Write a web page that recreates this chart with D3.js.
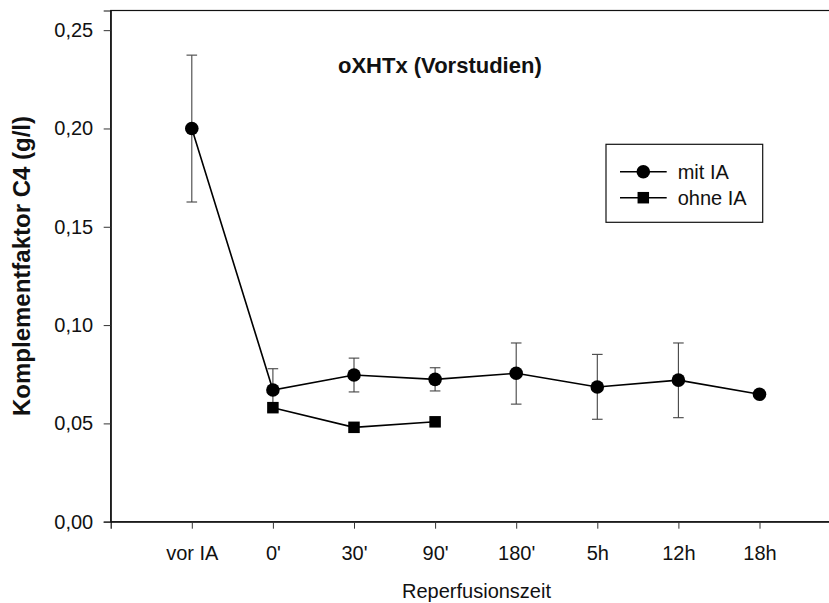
<!DOCTYPE html>
<html>
<head>
<meta charset="utf-8">
<script src="https://cdn.jsdelivr.net/npm/d3@7"></script>
<style>
  html, body { margin: 0; padding: 0; background: #fff; }
  svg { display: block; font-family: "Liberation Sans", Arial, sans-serif; }
</style>
</head>
<body>
<svg id="chart" width="829" height="603"></svg>
<script>
// Time points after reperfusion
const categories = ["vor IA", "0'", "30'", "90'", "180'", "5h", "12h", "18h"];

// Complement factor C4 (g/l), with intervention
const mitIA      = [0.200, 0.067, 0.0746, 0.0724, 0.0755, 0.0685, 0.0720, 0.0648];
const mitIAUpper = [0.2373, 0.0778, 0.0832, 0.0783, 0.0909, 0.0851, 0.0909, null];
const mitIALower = [0.1626, 0.0562, 0.0660, 0.0665, 0.0598, 0.0521, 0.0529, null];

// Complement factor C4 (g/l), without intervention
const ohneIA = [null, 0.058, 0.048, 0.0508, null, null, null, null];

const yTicks = [0, 0.05, 0.10, 0.15, 0.20, 0.25];

const svg = d3.select("#chart");
const plotLeft = 110.7, plotTop = 10.5, plotBottom = 521.7;
const labelSize = 20;

const x = d3.scaleLinear().domain([-1, 9]).range([plotLeft, plotLeft + 10 * 81.1]);
const y = d3.scaleLinear().domain([0, 0.26]).range([plotBottom, plotTop]);

const fmt = v => d3.format(".2f")(v).replace(".", ",");

// frame
svg.append("rect")
  .attr("x", plotLeft).attr("y", plotTop)
  .attr("width", x(9) - plotLeft).attr("height", plotBottom - plotTop)
  .attr("fill", "none").attr("stroke", "#111").attr("stroke-width", 1.2);

// y axis
const yAxis = svg.append("g")
  .attr("transform", `translate(${plotLeft},0)`)
  .call(d3.axisLeft(y).tickValues(yTicks).tickFormat(fmt).tickSize(7).tickPadding(10.5));
yAxis.select(".domain").attr("stroke", "#111").attr("stroke-width", 1.2);
yAxis.selectAll(".tick line").attr("stroke", "#333");
yAxis.selectAll("text").attr("font-size", labelSize).attr("fill", "#111")
  .attr("font-family", "Liberation Sans, Arial, sans-serif");

// x axis
const xAxis = svg.append("g")
  .attr("transform", `translate(0,${plotBottom})`)
  .call(d3.axisBottom(x).tickValues(d3.range(categories.length))
    .tickFormat(i => categories[i]).tickSize(7).tickPadding(17));
xAxis.select(".domain").attr("stroke", "#111").attr("stroke-width", 1.2);
xAxis.selectAll(".tick line").attr("stroke", "#333");
xAxis.selectAll("text").attr("font-size", labelSize).attr("fill", "#111")
  .attr("font-family", "Liberation Sans, Arial, sans-serif");

// axis titles
svg.append("text")
  .attr("x", 551).attr("y", 598)
  .attr("text-anchor", "end").attr("font-size", labelSize).attr("fill", "#111")
  .text("Reperfusionszeit");

svg.append("text")
  .attr("transform", "translate(30,266) rotate(-90)")
  .attr("text-anchor", "middle").attr("font-size", 24).attr("font-weight", "bold").attr("fill", "#111")
  .text("Komplementfaktor C4 (g/l)");

// chart title
svg.append("text")
  .attr("x", 338).attr("y", 73)
  .attr("text-anchor", "start").attr("font-size", 22).attr("font-weight", "bold").attr("fill", "#111")
  .text("oXHTx (Vorstudien)");

// error bars
const errData = mitIA.map((v, i) => ({ i, hi: mitIAUpper[i], lo: mitIALower[i] }))
  .filter(d => d.hi != null);
const cap = 5.3;
const eb = svg.append("g").attr("stroke", "#444").attr("stroke-width", 1.1);
errData.forEach(d => {
  eb.append("line").attr("x1", x(d.i)).attr("x2", x(d.i)).attr("y1", y(d.hi)).attr("y2", y(d.lo));
  eb.append("line").attr("x1", x(d.i) - cap).attr("x2", x(d.i) + cap).attr("y1", y(d.hi)).attr("y2", y(d.hi));
  eb.append("line").attr("x1", x(d.i) - cap).attr("x2", x(d.i) + cap).attr("y1", y(d.lo)).attr("y2", y(d.lo));
});

// lines
const line = d3.line().defined(d => d.v != null).x(d => x(d.i)).y(d => y(d.v));
const mitPts = mitIA.map((v, i) => ({ i, v }));
const ohnePts = ohneIA.map((v, i) => ({ i, v }));

svg.append("path").datum(mitPts).attr("d", line)
  .attr("fill", "none").attr("stroke", "#000").attr("stroke-width", 1.6);
svg.append("path").datum(ohnePts).attr("d", line)
  .attr("fill", "none").attr("stroke", "#000").attr("stroke-width", 1.6);

// markers
svg.append("g").selectAll("circle").data(mitPts.filter(d => d.v != null)).join("circle")
  .attr("cx", d => x(d.i)).attr("cy", d => y(d.v)).attr("r", 6.8).attr("fill", "#000");

const sq = 11.5;
svg.append("g").selectAll("rect").data(ohnePts.filter(d => d.v != null)).join("rect")
  .attr("x", d => x(d.i) - sq / 2).attr("y", d => y(d.v) - sq / 2)
  .attr("width", sq).attr("height", sq).attr("fill", "#000");

// legend
const lg = svg.append("g");
lg.append("rect").attr("x", 606).attr("y", 144.3).attr("width", 156.7).attr("height", 78)
  .attr("fill", "#fff").attr("stroke", "#111").attr("stroke-width", 1.2);
const legendItems = [
  { label: "mit IA", shape: "circle", yy: 171.7 },
  { label: "ohne IA", shape: "square", yy: 197.7 }
];
legendItems.forEach(it => {
  lg.append("line").attr("x1", 620).attr("x2", 666.7).attr("y1", it.yy).attr("y2", it.yy)
    .attr("stroke", "#000").attr("stroke-width", 1.6);
  if (it.shape === "circle") {
    lg.append("circle").attr("cx", 643.3).attr("cy", it.yy).attr("r", 6.8).attr("fill", "#000");
  } else {
    lg.append("rect").attr("x", 643.3 - sq / 2).attr("y", it.yy - sq / 2)
      .attr("width", sq).attr("height", sq).attr("fill", "#000");
  }
  lg.append("text").attr("x", 677.7).attr("y", it.yy + 7).attr("font-size", labelSize).attr("fill", "#111")
    .text(it.label);
});
</script>
</body>
</html>
